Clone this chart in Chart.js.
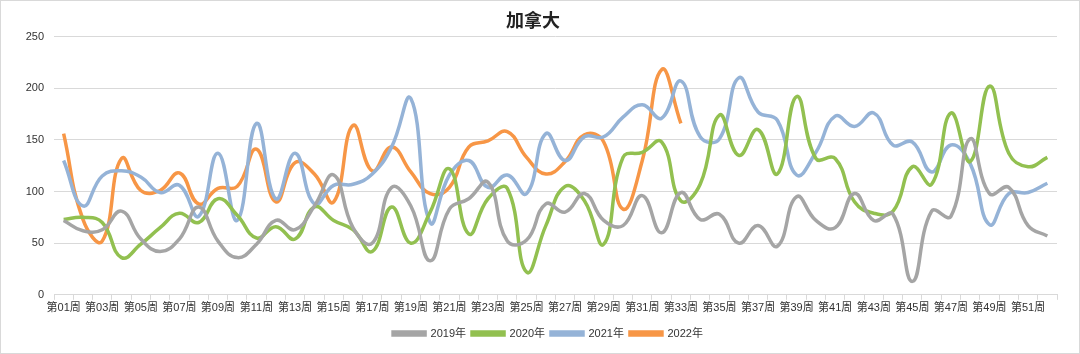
<!DOCTYPE html>
<html>
<head>
<meta charset="utf-8">
<script src="https://cdn.jsdelivr.net/npm/chart.js@4.4.0/dist/chart.umd.min.js"></script>
<style>
  html, body { margin: 0; padding: 0; background: #fff; }
  #wrap { position: relative; width: 1078px; height: 352px; border: 1px solid #d9d9d9; }
</style>
</head>
<body>
<div id="wrap"><canvas id="weekChart"></canvas></div>
<script>
// week labels 第01周 .. 第52周
const weeks = [];
for (let i = 1; i <= 52; i++) weeks.push('第' + String(i).padStart(2, '0') + '周');

const y2019 = [72, 62, 63, 81, 54, 42, 54, 85, 52, 36, 49, 72, 63, 86, 116, 65, 50, 104, 86, 33,
               83, 93, 109, 52, 53, 88, 80, 98, 72, 67, 96, 60, 99, 73, 78, 50, 67, 47, 95, 72,
               65, 98, 72, 78, 13, 81, 76, 151, 98, 104, 67, 57];
const y2020 = [73, 75, 70, 36, 49, 65, 79, 70, 93, 77, 55, 66, 54, 85, 72, 63, 42, 85, 50, 80,
               122, 59, 93, 103, 22, 67, 105, 91, 49, 133, 138, 148, 91, 107, 174, 135, 160, 117, 192, 132,
               132, 90, 79, 81, 124, 107, 176, 129, 202, 137, 124, 133];
const y2021 = [130, 86, 115, 120, 114, 99, 106, 76, 137, 72, 166, 93, 137, 88, 106, 107, 117, 143, 190, 70,
               116, 130, 104, 116, 98, 156, 130, 153, 153, 172, 184, 171, 207, 153, 151, 210, 177, 169, 116, 138,
               173, 163, 176, 145, 148, 119, 145, 127, 68, 98, 99, 108];
const y2022 = [156, 73, 52, 132, 101, 101, 118, 88, 103, 105, 141, 90, 128, 117, 90, 164, 120, 143, 119, 98,
               104, 143, 149, 158, 133, 117, 129, 155, 148, 83, 130, 218, 166];

const seriesNames = ['2019年', '2020年', '2021年', '2022年'];
const seriesColors = ['#a5a5a5', '#92c050', '#95b3d7', '#f79646'];
const seriesData = [y2019, y2020, y2021, y2022];

const yTicks = [0, 50, 100, 150, 200, 250];

const baseFont = "'Liberation Sans', 'Noto Sans CJK SC', sans-serif";

// legend in the original sits centred under the plot area, not the canvas
const legendShift = {
    id: 'legendShift',
    afterLayout(chart) {
        const lg = chart.legend;
        if (lg) { lg.left += 15; lg.right += 15; }
    }
};

const ctx = document.getElementById('weekChart').getContext('2d');
const weekChart = new Chart(ctx, {
    type: 'line',
    data: {
        labels: weeks,
        datasets: seriesData.map((d, i) => ({
            label: seriesNames[i],
            data: d,
            borderColor: seriesColors[i],
            backgroundColor: seriesColors[i],
            borderWidth: 3.5,
            pointRadius: 0,
            tension: 0.45,
            fill: false
        }))
    },
    plugins: [legendShift],
    options: {
        responsive: true,
        maintainAspectRatio: false,
        animation: false,
        layout: { padding: { left: 8, right: 22, top: 2, bottom: 4 } },
        plugins: {
            title: {
                display: true,
                text: '加拿大',
                color: '#222',
                font: { family: baseFont, size: 18, weight: 'bold' },
                padding: { top: 8, bottom: 4 }
            },
            legend: {
                position: 'bottom',
                labels: {
                    color: '#333',
                    font: { family: baseFont, size: 11 },
                    boxWidth: 32,
                    boxHeight: 3,
                    padding: 6
                }
            },
            tooltip: { enabled: false }
        },
        scales: {
            x: {
                offset: true,
                afterFit: s => { s.height += 5; },
                grid: { drawOnChartArea: false, drawTicks: true, tickLength: 5, offset: true, color: '#d9d9d9' },
                border: { color: '#d9d9d9' },
                ticks: {
                    color: '#333',
                    font: { family: baseFont, size: 11 },
                    autoSkip: false,
                    maxRotation: 0,
                    padding: 2,
                    callback: function (val, idx) { return idx % 2 === 0 ? weeks[idx] : ''; }
                }
            },
            y: {
                min: 0,
                max: 250,
                afterBuildTicks: s => { s.ticks = yTicks.map(v => ({ value: v })); },
                afterFit: s => { s.width = 45; },
                grid: { color: '#d9d9d9', drawTicks: false },
                border: { display: false },
                ticks: {
                    color: '#333',
                    font: { family: baseFont, size: 11 },
                    padding: 10
                }
            }
        }
    }
});
</script>
</body>
</html>
